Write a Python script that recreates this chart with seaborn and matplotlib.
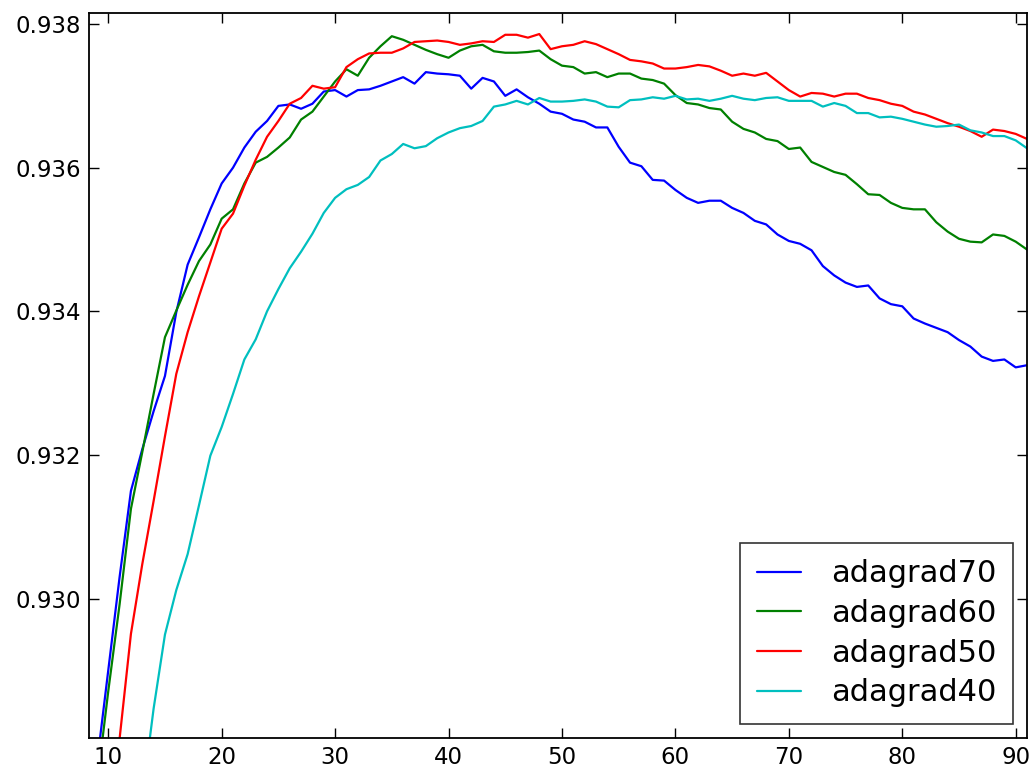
import numpy as np
import pandas as pd
import matplotlib
matplotlib.use("Agg")
import matplotlib.pyplot as plt
import seaborn as sns

epochs = list(range(9, 92))

adagrad70 = [
    0.9277, 0.9290, 0.9303, 0.9315, 0.93208, 0.93261, 0.9331, 0.93399, 0.93465, 0.93503,
    0.93542, 0.93578, 0.9360, 0.93628, 0.9365, 0.93665, 0.93686, 0.93688, 0.93682, 0.93689,
    0.93706, 0.93708, 0.93699, 0.93708, 0.93709, 0.93714, 0.9372, 0.93726, 0.93717, 0.93733,
    0.93731, 0.9373, 0.93728, 0.9371, 0.93725, 0.9372, 0.9370, 0.93709, 0.93698, 0.93689,
    0.93678, 0.93675, 0.93667, 0.93664, 0.93656, 0.93656, 0.93629, 0.93607, 0.93602, 0.93583,
    0.93582, 0.93569, 0.93558, 0.93551, 0.93554, 0.93554, 0.93544, 0.93537, 0.93526, 0.93521,
    0.93507, 0.93498, 0.93494, 0.93485, 0.93463, 0.9345, 0.9344, 0.93434, 0.93436, 0.93418,
    0.9341, 0.93407, 0.9339, 0.93383, 0.93377, 0.93371, 0.9336, 0.93351, 0.93337, 0.93331,
    0.93333, 0.93322, 0.93325,
]

adagrad60 = [
    0.9274, 0.92871, 0.92992, 0.93125, 0.93204, 0.93285, 0.93364, 0.93401, 0.93437, 0.9347,
    0.93493, 0.93529, 0.93542, 0.93578, 0.93607, 0.93615, 0.93628, 0.93642, 0.93667, 0.93678,
    0.93699, 0.9372, 0.93737, 0.93728, 0.93753, 0.93769, 0.93783, 0.93778, 0.93771, 0.93764,
    0.93758, 0.93753, 0.93763, 0.93769, 0.93771, 0.93762, 0.9376, 0.9376, 0.93761, 0.93763,
    0.93751, 0.93742, 0.9374, 0.93731, 0.93733, 0.93726, 0.93731, 0.93731, 0.93724, 0.93722,
    0.93717, 0.93701, 0.9369, 0.93688, 0.93683, 0.93681, 0.93664, 0.93654, 0.93649, 0.9364,
    0.93637, 0.93626, 0.93628, 0.93608, 0.93601, 0.93594, 0.9359, 0.93577, 0.93563, 0.93562,
    0.93551, 0.93544, 0.93542, 0.93542, 0.93524, 0.93511, 0.93501, 0.93497, 0.93496, 0.93507,
    0.93505, 0.93497, 0.93486,
]

adagrad50 = [
    np.nan, 0.9265, 0.92805, 0.92951, 0.93048, 0.93136, 0.93226, 0.93313, 0.93371, 0.93421,
    0.93468, 0.93515, 0.93536, 0.93575, 0.93611, 0.93643, 0.93665, 0.93689, 0.93697, 0.93714,
    0.9371, 0.93712, 0.9374, 0.93751, 0.93759, 0.9376, 0.9376, 0.93766, 0.93775, 0.93776,
    0.93777, 0.93775, 0.93771, 0.93773, 0.93776, 0.93775, 0.93785, 0.93785, 0.93781, 0.93786,
    0.93765, 0.93769, 0.93771, 0.93776, 0.93772, 0.93765, 0.93758, 0.9375, 0.93748, 0.93745,
    0.93738, 0.93738, 0.9374, 0.93743, 0.93741, 0.93735, 0.93728, 0.93731, 0.93728, 0.93732,
    0.9372, 0.93708, 0.93699, 0.93704, 0.93703, 0.93699, 0.93703, 0.93703, 0.93697, 0.93694,
    0.93689, 0.93686, 0.93678, 0.93674, 0.93668, 0.93662, 0.93657, 0.93651, 0.93643, 0.93653,
    0.93651, 0.93647, 0.9364,
]

adagrad40 = [
    np.nan, np.nan, np.nan, np.nan, 0.92723, 0.92847, 0.9295, 0.93012, 0.93062, 0.9313,
    0.93199, 0.93239, 0.93285, 0.93333, 0.93361, 0.934, 0.93431, 0.9346, 0.93483, 0.93508,
    0.93537, 0.93558, 0.9357, 0.93576, 0.93587, 0.9361, 0.93619, 0.93633, 0.93627, 0.9363,
    0.93641, 0.93649, 0.93655, 0.93658, 0.93665, 0.93685, 0.93688, 0.93693, 0.93688, 0.93697,
    0.93692, 0.93692, 0.93693, 0.93695, 0.93692, 0.93685, 0.93684, 0.93694, 0.93695, 0.93698,
    0.93696, 0.937, 0.93695, 0.93696, 0.93693, 0.93696, 0.937, 0.93696, 0.93694, 0.93697,
    0.93698, 0.93693, 0.93693, 0.93693, 0.93685, 0.9369, 0.93686, 0.93676, 0.93676, 0.9367,
    0.93671, 0.93668, 0.93664, 0.9366, 0.93657, 0.93658, 0.9366, 0.93652, 0.93649, 0.93644,
    0.93644, 0.93638, 0.93627,
]

series_names = ["adagrad70", "adagrad60", "adagrad50", "adagrad40"]
series_values = [adagrad70, adagrad60, adagrad50, adagrad40]
colors = ["#0000ff", "#008000", "#ff0000", "#00bfbf"]
x_ticks = [10, 20, 30, 40, 50, 60, 70, 80, 90]
y_ticks = [0.930, 0.932, 0.934, 0.936, 0.938]
y_tick_labels = ["0.930", "0.932", "0.934", "0.936", "0.938"]

frames = []
for name, vals in zip(series_names, series_values):
    frames.append(pd.DataFrame({"epoch": epochs, "acc": vals, "model": name}))
df = pd.concat(frames, ignore_index=True)

sns.set_style("white")
plt.rcParams["font.family"] = ["DejaVu Sans"]
plt.rcParams["text.color"] = "black"
plt.rcParams["xtick.color"] = "black"
plt.rcParams["ytick.color"] = "black"
plt.rcParams["axes.labelcolor"] = "black"

fig = plt.figure(figsize=(10.32, 7.72), dpi=100)
ax = fig.add_axes([0.0862, 0.044, 0.9090, 0.9398])

sns.lineplot(data=df, x="epoch", y="acc", hue="model", hue_order=series_names,
             palette=colors, errorbar=None, linewidth=1.6, ax=ax, sort=True)

ax.set_xlim(8.3, 91.0)
ax.set_ylim(0.92806, 0.93816)
ax.set_xticks(x_ticks)
ax.set_xticklabels([str(t) for t in x_ticks])
ax.set_yticks(y_ticks)
ax.set_yticklabels(y_tick_labels)
ax.set_xlabel("")
ax.set_ylabel("")

for s in ax.spines.values():
    s.set_visible(True)
    s.set_color("black")
    s.set_linewidth(1.3)

ax.tick_params(axis="both", which="major", direction="in", length=7, width=1,
               labelsize=16.5, top=True, right=True, bottom=True, left=True,
               colors="black", labelcolor="black", pad=6)

handles, labels = ax.get_legend_handles_labels()
leg = ax.legend(handles, labels, loc="lower right", fontsize=22, frameon=True,
                fancybox=False, handlelength=1.44, handletextpad=1.0,
                labelspacing=0.35, borderpad=0.55, borderaxespad=0.45)
leg.get_frame().set_edgecolor("black")
leg.get_frame().set_linewidth(1.2)
for t in leg.get_texts():
    t.set_color("black")
for line in leg.get_lines():
    line.set_linewidth(1.6)

fig.savefig("out.png", dpi=100, facecolor="white")
